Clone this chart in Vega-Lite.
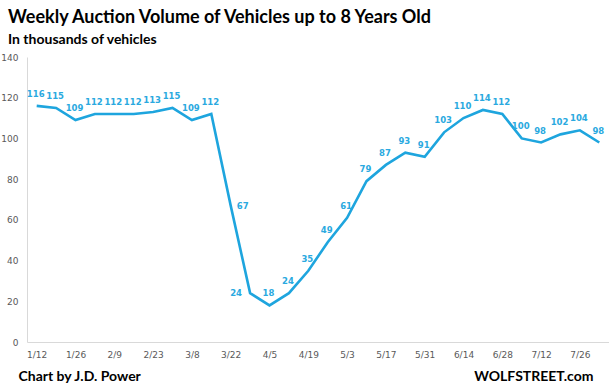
{
  "$schema": "https://vega.github.io/schema/vega-lite/v6.json",
  "width": 582,
  "height": 285,
  "autosize": "none",
  "padding": {"left": 27, "top": 57, "right": 0, "bottom": 46},
  "background": "white",
  "title": {
    "text": "Weekly Auction Volume of Vehicles up to 8 Years Old",
    "subtitle": "In thousands of vehicles",
    "anchor": "start",
    "frame": "group",
    "dx": -19,
    "offset": 6,
    "font": "Lato",
    "fontSize": 18,
    "fontWeight": "bold",
    "color": "#000000",
    "subtitleFont": "Lato",
    "subtitleFontSize": 14,
    "subtitleFontWeight": "bold",
    "subtitleColor": "#000000",
    "subtitlePadding": 6
  },
  "config": {
    "view": {"stroke": null},
    "axis": {"grid": false, "ticks": false, "domainColor": "#d9d9d9", "labelColor": "#595959", "labelFont": "DejaVu Sans", "labelFontSize": 9}
  },
  "data": {
    "values": [
      {"week": "1/12", "volume": 116},
      {"week": "1/19", "volume": 115},
      {"week": "1/26", "volume": 109},
      {"week": "2/2", "volume": 112},
      {"week": "2/9", "volume": 112},
      {"week": "2/16", "volume": 112},
      {"week": "2/23", "volume": 113},
      {"week": "3/1", "volume": 115},
      {"week": "3/8", "volume": 109},
      {"week": "3/15", "volume": 112},
      {"week": "3/22", "volume": 67},
      {"week": "3/29", "volume": 24},
      {"week": "4/5", "volume": 18},
      {"week": "4/12", "volume": 24},
      {"week": "4/19", "volume": 35},
      {"week": "4/26", "volume": 49},
      {"week": "5/3", "volume": 61},
      {"week": "5/10", "volume": 79},
      {"week": "5/17", "volume": 87},
      {"week": "5/24", "volume": 93},
      {"week": "5/31", "volume": 91},
      {"week": "6/7", "volume": 103},
      {"week": "6/14", "volume": 110},
      {"week": "6/21", "volume": 114},
      {"week": "6/28", "volume": 112},
      {"week": "7/5", "volume": 100},
      {"week": "7/12", "volume": 98},
      {"week": "7/19", "volume": 102},
      {"week": "7/26", "volume": 104},
      {"week": "8/2", "volume": 98}
    ]
  },
  "encoding": {
    "x": {
      "field": "week",
      "type": "ordinal",
      "sort": null,
      "scale": {"type": "point", "padding": 0.5},
      "axis": {
        "values": ["1/12","1/26","2/9","2/23","3/8","3/22","4/5","4/19","5/3","5/17","5/31","6/14","6/28","7/12","7/26"],
        "labelAngle": 0,
        "labelPadding": 8,
        "title": "Chart by J.D. Power",
        "titleFont": "Lato",
        "titleFontSize": 14,
        "titleFontWeight": "bold",
        "titleColor": "#000000",
        "titleAnchor": "start",
        "titleAlign": "left",
        "titleBaseline": "middle",
        "titleX": -9,
        "titleY": 34
      }
    },
    "y": {
      "field": "volume",
      "type": "quantitative",
      "scale": {"domain": [0, 140], "nice": false},
      "axis": {
        "values": [0, 20, 40, 60, 80, 100, 120, 140],
        "labelPadding": 9,
        "title": "WOLFSTREET.com",
        "titleAngle": 0,
        "titleFont": "Lato",
        "titleFontSize": 14,
        "titleFontWeight": "bold",
        "titleColor": "#000000",
        "titleAlign": "right",
        "titleBaseline": "middle",
        "titleX": 566,
        "titleY": 319
      }
    }
  },
  "layer": [
    {
      "mark": {"type": "line", "color": "#1ea5de", "strokeWidth": 2.6}
    },
    {
      "transform": [{"filter": "datum.week != '3/22' && datum.week != '3/29'"}],
      "mark": {"type": "text", "dy": -12, "dx": -1, "font": "DejaVu Sans", "fontSize": 8.5, "fontWeight": "bold", "color": "#2aa9e0"},
      "encoding": {"text": {"field": "volume", "type": "quantitative"}}
    },
    {
      "transform": [{"filter": "datum.week == '3/22'"}],
      "mark": {"type": "text", "dx": 12, "align": "center", "font": "DejaVu Sans", "fontSize": 8.5, "fontWeight": "bold", "color": "#2aa9e0"},
      "encoding": {"text": {"field": "volume", "type": "quantitative"}}
    },
    {
      "transform": [{"filter": "datum.week == '3/29'"}],
      "mark": {"type": "text", "dx": -14, "align": "center", "font": "DejaVu Sans", "fontSize": 8.5, "fontWeight": "bold", "color": "#2aa9e0"},
      "encoding": {"text": {"field": "volume", "type": "quantitative"}}
    }
  ]
}
